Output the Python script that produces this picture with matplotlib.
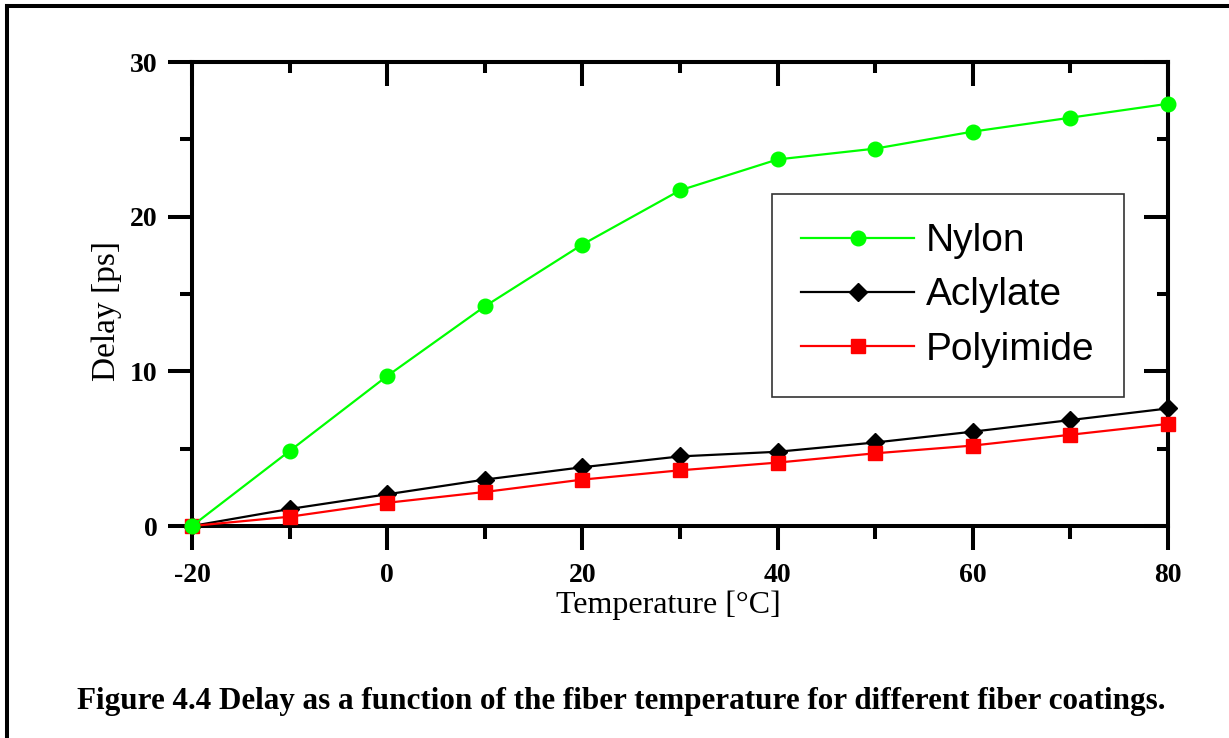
import matplotlib
matplotlib.use("Agg")
import matplotlib.pyplot as plt
from matplotlib.lines import Line2D
from matplotlib.ticker import MultipleLocator

plt.rcParams["axes.unicode_minus"] = False

temperature = [-20, -10, 0, 10, 20, 30, 40, 50, 60, 70, 80]
nylon = [0.0, 4.85, 9.7, 14.2, 18.2, 21.7, 23.7, 24.4, 25.5, 26.4, 27.3]
aclylate = [0.0, 1.1, 2.05, 3.0, 3.8, 4.5, 4.8, 5.4, 6.1, 6.85, 7.6]
polyimide = [0.0, 0.6, 1.5, 2.2, 3.0, 3.6, 4.1, 4.7, 5.2, 5.9, 6.6]
xticks = [-20, 0, 20, 40, 60, 80]
yticks = [0, 10, 20, 30]
caption = "Figure 4.4 Delay as a function of the fiber temperature for different fiber coatings."

W, H = 1229, 738
DPI = 100
fig = plt.figure(figsize=(W / DPI, H / DPI), dpi=DPI)
fig.patch.set_facecolor("white")

def px(x0, y0, x1, y1):
    return [x0 / W, 1 - y1 / H, (x1 - x0) / W, (y1 - y0) / H]

ax = fig.add_axes(px(192, 62, 1168, 526))
serif = "Liberation Serif"
sans = "Liberation Sans"

ax.plot(temperature, aclylate, color="black", lw=1.6, marker="D", ms=9.5, mec="black", mfc="black",
        label="Aclylate", zorder=4, clip_on=False)
ax.plot(temperature, polyimide, color="#ff0000", lw=1.6, marker="s", ms=9.5, mec="#ff0000", mfc="#ff0000",
        label="Polyimide", zorder=5, clip_on=False)
ax.plot(temperature, nylon, color="#00ff00", lw=1.6, marker="o", ms=10.5, mec="#00ff00", mfc="#00ff00",
        label="Nylon", zorder=6, clip_on=False)

ax.set_xlim(-20, 80)
ax.set_ylim(0, 30)
for s in ax.spines.values():
    s.set_linewidth(2.9)

ax.xaxis.set_minor_locator(MultipleLocator(10))
ax.yaxis.set_minor_locator(MultipleLocator(5))
ax.set_xticks(xticks)
ax.set_yticks(yticks)
ax.tick_params(axis="both", which="major", direction="out", length=17, width=2.9, top=False, right=False, pad=8)
ax.tick_params(axis="x", which="major", pad=10)
ax.tick_params(axis="both", which="minor", direction="out", length=9, width=2.9, top=False, right=False)
for lab in ax.get_xticklabels() + ax.get_yticklabels():
    lab.set_fontfamily(serif)
    lab.set_fontweight("bold")
    lab.set_fontsize(20)

top = ax.secondary_xaxis("top")
top.xaxis.set_major_locator(MultipleLocator(20))
top.xaxis.set_minor_locator(MultipleLocator(10))
top.tick_params(which="major", direction="in", length=17, width=2.9, labeltop=False)
top.tick_params(which="minor", direction="in", length=8, width=2.9)
top.spines["top"].set_linewidth(2.9)
right = ax.secondary_yaxis("right")
right.yaxis.set_major_locator(MultipleLocator(10))
right.yaxis.set_minor_locator(MultipleLocator(5))
right.tick_params(which="major", direction="in", length=17, width=2.9, labelright=False)
right.tick_params(which="minor", direction="in", length=8, width=2.9)
right.spines["right"].set_linewidth(2.9)

ax.set_xlabel("Temperature [°C]", fontfamily=serif, fontsize=23)
ax.xaxis.set_label_coords((668 - 192) / 976, (526 - 590) / 464)
ax.set_ylabel("Delay [ps]", fontfamily=serif, fontsize=24)
ax.yaxis.set_label_coords((122 - 192) / 976, (526 - 311) / 464)

handles, labels = ax.get_legend_handles_labels()
order = [2, 0, 1]
leg = ax.legend([handles[i] for i in order], [labels[i] for i in order],
                loc="upper left", bbox_to_anchor=(772 / W, 1 - 194 / H), bbox_transform=fig.transFigure,
                borderaxespad=0, frameon=True, fancybox=False, prop={"family": sans, "size": 28},
                handlelength=2.9, handletextpad=0.31, labelspacing=0.47, borderpad=0.75)
leg.get_frame().set_edgecolor("black")
leg.get_frame().set_linewidth(1.2)
leg.set_zorder(10)

fig.text(621 / W, 1 - 702 / H, caption, ha="center", va="center", fontfamily=serif, fontweight="bold", fontsize=22.4)

fig.add_artist(Line2D([7 / W, 1], [1 - 5.5 / H, 1 - 5.5 / H], transform=fig.transFigure, color="black", lw=2.9))
fig.add_artist(Line2D([7 / W, 7 / W], [1 - 5.5 / H, 0], transform=fig.transFigure, color="black", lw=2.9))

fig.savefig("out.png", dpi=DPI)
